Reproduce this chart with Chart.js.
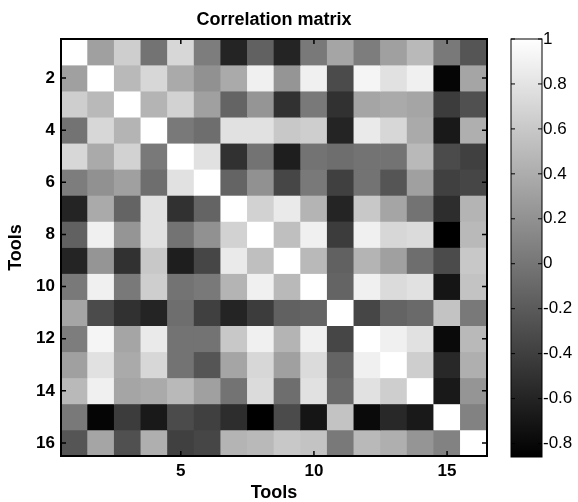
<!DOCTYPE html>
<html>
<head>
<meta charset="utf-8">
<title>Correlation matrix</title>
<script src="https://cdn.jsdelivr.net/npm/chart.js@4.4.1/dist/chart.umd.min.js"></script>
<style>
    html, body { margin: 0; padding: 0; background: #fff; }
    #wrap { position: relative; width: 578px; height: 502px; }
    #matrixChart, #colorbarChart { position: absolute; top: 0; }
    #matrixChart { left: 0; }
    #colorbarChart { left: 500px; }
</style>
</head>
<body>
<div id="wrap">
    <canvas id="matrixChart" width="578" height="502"></canvas>
    <canvas id="colorbarChart" width="78" height="502"></canvas>
</div>
<script>
// Données
const outils = [1, 2, 3, 4, 5, 6, 7, 8, 9, 10, 11, 12, 13, 14, 15, 16];

// Matrice de corrélation (une ligne par outil)
const correlations = [
    [ 1.00,  0.31,  0.64, -0.02,  0.71,  0.05, -0.60, -0.15, -0.60,  0.02,  0.34,  0.05,  0.31,  0.49,  0.02, -0.24],
    [ 0.31,  1.00,  0.49,  0.71,  0.38,  0.20,  0.38,  0.89,  0.23,  0.89, -0.31,  0.93,  0.78,  0.89, -0.82,  0.34],
    [ 0.64,  0.49,  1.00,  0.45,  0.67,  0.31, -0.13,  0.23, -0.50,  0.02, -0.50,  0.34,  0.38,  0.34, -0.42, -0.28],
    [-0.02,  0.71,  0.45,  1.00,  0.02, -0.06,  0.78,  0.78,  0.60,  0.64, -0.60,  0.85,  0.71,  0.38, -0.68,  0.42],
    [ 0.71,  0.38,  0.67,  0.02,  1.00,  0.78, -0.50, -0.02, -0.64, -0.02, -0.06, -0.02, -0.02,  0.49, -0.31, -0.39],
    [ 0.05,  0.20,  0.31, -0.06,  0.78,  1.00, -0.13,  0.20, -0.35,  0.02, -0.39, -0.02, -0.24,  0.31, -0.39, -0.35],
    [-0.60,  0.38, -0.13,  0.78, -0.50, -0.13,  1.00,  0.67,  0.85,  0.45, -0.60,  0.60,  0.34, -0.02, -0.53,  0.45],
    [-0.15,  0.89,  0.23,  0.78, -0.02,  0.20,  0.67,  1.00,  0.53,  0.89, -0.42,  0.89,  0.71,  0.74, -0.86,  0.49],
    [-0.60,  0.23, -0.50,  0.60, -0.64, -0.35,  0.85,  0.53,  1.00,  0.49, -0.15,  0.45,  0.31, -0.06, -0.31,  0.60],
    [ 0.02,  0.89,  0.02,  0.64, -0.02,  0.02,  0.45,  0.89,  0.49,  1.00, -0.13,  0.89,  0.74,  0.78, -0.71,  0.56],
    [ 0.34, -0.31, -0.50, -0.60, -0.06, -0.39, -0.60, -0.42, -0.15, -0.13,  1.00, -0.35, -0.13, -0.09,  0.56,  0.02],
    [ 0.05,  0.93,  0.34,  0.85, -0.02, -0.02,  0.60,  0.89,  0.45,  0.89, -0.35,  1.00,  0.89,  0.78, -0.79,  0.49],
    [ 0.31,  0.78,  0.38,  0.71, -0.02, -0.24,  0.34,  0.71,  0.31,  0.74, -0.13,  0.89,  1.00,  0.64, -0.57,  0.42],
    [ 0.49,  0.89,  0.34,  0.38,  0.49,  0.31, -0.02,  0.74, -0.06,  0.78, -0.09,  0.78,  0.64,  1.00, -0.68,  0.23],
    [ 0.02, -0.82, -0.42, -0.68, -0.31, -0.39, -0.53, -0.86, -0.31, -0.71,  0.56, -0.79, -0.57, -0.68,  1.00,  0.09],
    [-0.24,  0.34, -0.28,  0.42, -0.39, -0.35,  0.45,  0.49,  0.60,  0.56,  0.02,  0.49,  0.42,  0.23,  0.09,  1.00]
];

// Graduations des axes
const xTicks = [5, 10, 15];
const yTicks = [2, 4, 6, 8, 10, 12, 14, 16];
const cbTicks = [1, 0.8, 0.6, 0.4, 0.2, 0, -0.2, -0.4, -0.6, -0.8];

// Bornes de l'échelle de gris
const cMin = -0.86;
const cMax = 1;

const police = "'Liberation Sans', Arial, Helvetica, sans-serif";

// Conversion valeur -> niveau de gris
function grisPour(v) {
    const t = Math.max(0, Math.min(1, (v - cMin) / (cMax - cMin)));
    const g = Math.round(t * 255);
    return 'rgb(' + g + ',' + g + ',' + g + ')';
}

// Cadre noir + petites graduations vers l'intérieur (style MATLAB)
const cadrePlugin = {
    id: 'cadre',
    afterDatasetsDraw(chart, args, opts) {
        const ctx = chart.ctx;
        const a = chart.chartArea;
        const L = opts.tickLength || 5;
        ctx.save();
        ctx.strokeStyle = '#000';
        ctx.lineWidth = opts.tickWidth || 1.5;
        (opts.scaleIds || []).forEach(id => {
            const scale = chart.scales[id];
            scale.ticks.forEach(t => {
                const p = scale.getPixelForValue(t.value);
                ctx.beginPath();
                if (scale.isHorizontal()) {
                    ctx.moveTo(p, a.bottom); ctx.lineTo(p, a.bottom - L);
                    ctx.moveTo(p, a.top); ctx.lineTo(p, a.top + L);
                } else {
                    ctx.moveTo(a.left, p); ctx.lineTo(a.left + L, p);
                    ctx.moveTo(a.right, p); ctx.lineTo(a.right - L, p);
                }
                ctx.stroke();
            });
        });
        ctx.lineWidth = opts.lineWidth || 1;
        ctx.strokeRect(a.left, a.top, a.right - a.left, a.bottom - a.top);
        ctx.restore();
    }
};

// Un jeu de barres flottantes par ligne de la matrice
const datasets = correlations.map((ligne, i) => ({
    label: 'Outil ' + outils[i],
    data: ligne.map((v, j) => ({ x: outils[j], y: [outils[i] - 0.5, outils[i] + 0.5] })),
    backgroundColor: ligne.map(grisPour),
    borderWidth: 0,
    barPercentage: 1,
    categoryPercentage: 1,
    grouped: false
}));

window.matrixChart = new Chart(document.getElementById('matrixChart'), {
    type: 'bar',
    data: { datasets: datasets },
    options: {
        responsive: false,
        animation: false,
        layout: { padding: { top: 0, right: 91, bottom: 0, left: 0 } },
        plugins: {
            legend: { display: false },
            tooltip: { enabled: false },
            title: {
                display: true,
                text: 'Correlation matrix',
                fullSize: false,
                color: '#000',
                font: { family: police, size: 18, weight: 'bold' },
                padding: { top: 9, bottom: 8.4 }
            },
            cadre: { scaleIds: ['x', 'y'], lineWidth: 2, tickWidth: 1.5, tickLength: 5 }
        },
        scales: {
            x: {
                type: 'linear',
                min: 0.5,
                max: 16.5,
                offset: false,
                grid: { display: false, drawTicks: false },
                border: { display: false },
                afterBuildTicks: s => { s.ticks = xTicks.map(v => ({ value: v })); },
                afterFit: s => { s.height = 46; },
                ticks: {
                    color: '#000',
                    padding: 5,
                    maxRotation: 0,
                    font: { family: police, size: 17, weight: 'bold' }
                },
                title: {
                    display: true,
                    text: 'Tools',
                    color: '#000',
                    font: { family: police, size: 18, weight: 'bold', lineHeight: 1 },
                    padding: { top: 0, bottom: 0 }
                }
            },
            y: {
                type: 'linear',
                min: 0.5,
                max: 16.5,
                reverse: true,
                grid: { display: false, drawTicks: false },
                border: { display: false },
                afterBuildTicks: s => { s.ticks = yTicks.map(v => ({ value: v })); },
                afterFit: s => { s.width = 61; },
                ticks: {
                    color: '#000',
                    padding: 6,
                    font: { family: police, size: 17, weight: 'bold' }
                },
                title: {
                    display: true,
                    text: 'Tools',
                    color: '#000',
                    font: { family: police, size: 18, weight: 'bold' },
                    padding: { top: 5, bottom: 0 }
                }
            }
        }
    },
    plugins: [cadrePlugin]
});

// Barre de couleur (dégradé noir -> blanc)
function degrade(context) {
    const chart = context.chart;
    const a = chart.chartArea;
    if (!a) return '#808080';
    const g = chart.ctx.createLinearGradient(0, a.bottom, 0, a.top);
    g.addColorStop(0, grisPour(cMin));
    g.addColorStop(1, grisPour(cMax));
    return g;
}

window.colorbarChart = new Chart(document.getElementById('colorbarChart'), {
    type: 'bar',
    data: {
        labels: [''],
        datasets: [{
            data: [[cMin, cMax]],
            backgroundColor: degrade,
            borderWidth: 0,
            barPercentage: 1,
            categoryPercentage: 1
        }]
    },
    options: {
        responsive: false,
        animation: false,
        layout: { padding: { top: 39, right: 0, bottom: 45, left: 11 } },
        plugins: {
            legend: { display: false },
            tooltip: { enabled: false },
            cadre: { scaleIds: ['y'], lineWidth: 1, tickWidth: 1, tickLength: 4 }
        },
        scales: {
            x: { display: false },
            y: {
                position: 'right',
                min: cMin,
                max: cMax,
                grid: { display: false, drawTicks: false },
                border: { display: false },
                afterBuildTicks: s => { s.ticks = cbTicks.map(v => ({ value: v })); },
                afterFit: s => { s.width = 36; },
                ticks: {
                    color: '#000',
                    padding: 1,
                    font: { family: police, size: 17 },
                    callback: v => String(v)
                }
            }
        }
    },
    plugins: [cadrePlugin]
});
</script>
</body>
</html>
